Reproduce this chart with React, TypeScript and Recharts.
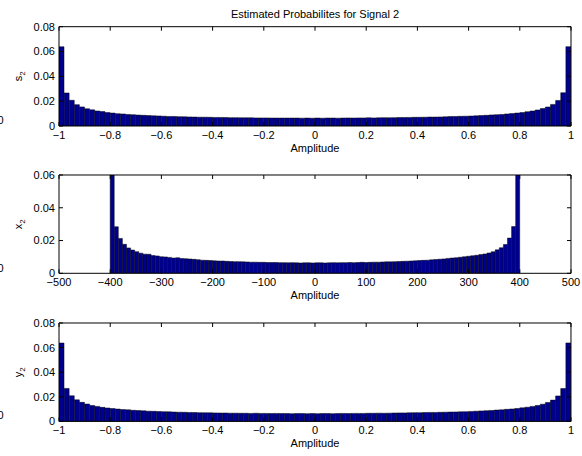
import React from 'react';
import { ComposedChart, Bar, Line, XAxis, YAxis, Label } from 'recharts';

const FONT = '"Liberation Sans", Arial, Helvetica, sans-serif';

// Bin centres (amplitude) for the normalised signals s2 and y2
const unitCenters = [
  -0.99, -0.97, -0.95, -0.93, -0.91, -0.89, -0.87, -0.85, -0.83, -0.81,
  -0.79, -0.77, -0.75, -0.73, -0.71, -0.69, -0.67, -0.65, -0.63, -0.61,
  -0.59, -0.57, -0.55, -0.53, -0.51, -0.49, -0.47, -0.45, -0.43, -0.41,
  -0.39, -0.37, -0.35, -0.33, -0.31, -0.29, -0.27, -0.25, -0.23, -0.21,
  -0.19, -0.17, -0.15, -0.13, -0.11, -0.09, -0.07, -0.05, -0.03, -0.01,
  0.01, 0.03, 0.05, 0.07, 0.09, 0.11, 0.13, 0.15, 0.17, 0.19,
  0.21, 0.23, 0.25, 0.27, 0.29, 0.31, 0.33, 0.35, 0.37, 0.39,
  0.41, 0.43, 0.45, 0.47, 0.49, 0.51, 0.53, 0.55, 0.57, 0.59,
  0.61, 0.63, 0.65, 0.67, 0.69, 0.71, 0.73, 0.75, 0.77, 0.79,
  0.81, 0.83, 0.85, 0.87, 0.89, 0.91, 0.93, 0.95, 0.97, 0.99,
];

// Bin centres (amplitude) for x2
const x2Centers = [
  -396, -388, -380, -372, -364, -356, -348, -340, -332, -324,
  -316, -308, -300, -292, -284, -276, -268, -260, -252, -244,
  -236, -228, -220, -212, -204, -196, -188, -180, -172, -164,
  -156, -148, -140, -132, -124, -116, -108, -100, -92, -84,
  -76, -68, -60, -52, -44, -36, -28, -20, -12, -4,
  4, 12, 20, 28, 36, 44, 52, 60, 68, 76,
  84, 92, 100, 108, 116, 124, 132, 140, 148, 156,
  164, 172, 180, 188, 196, 204, 212, 220, 228, 236,
  244, 252, 260, 268, 276, 284, 292, 300, 308, 316,
  324, 332, 340, 348, 356, 364, 372, 380, 388, 396,
];

const s2Values = [
  0.0638, 0.0266, 0.0207, 0.0172, 0.0154, 0.0139, 0.0130, 0.0121, 0.0116, 0.0108,
  0.0104, 0.0099, 0.0097, 0.0093, 0.0091, 0.0088, 0.0086, 0.0084, 0.0082, 0.0081,
  0.0079, 0.0077, 0.0077, 0.0075, 0.0074, 0.0073, 0.0072, 0.0071, 0.0071, 0.0070,
  0.0069, 0.0069, 0.0068, 0.0067, 0.0067, 0.0066, 0.0066, 0.0066, 0.0065, 0.0065,
  0.0065, 0.0064, 0.0064, 0.0064, 0.0064, 0.0064, 0.0064, 0.0063, 0.0064, 0.0063,
  0.0064, 0.0063, 0.0064, 0.0064, 0.0063, 0.0064, 0.0065, 0.0064, 0.0065, 0.0065,
  0.0066, 0.0065, 0.0066, 0.0067, 0.0066, 0.0067, 0.0068, 0.0068, 0.0069, 0.0070,
  0.0070, 0.0071, 0.0072, 0.0072, 0.0073, 0.0074, 0.0076, 0.0077, 0.0078, 0.0079,
  0.0080, 0.0082, 0.0084, 0.0086, 0.0089, 0.0091, 0.0093, 0.0097, 0.0100, 0.0104,
  0.0108, 0.0115, 0.0121, 0.0129, 0.0140, 0.0153, 0.0174, 0.0206, 0.0268, 0.0639,
];

const x2Values = [
  0.0660, 0.0284, 0.0213, 0.0177, 0.0155, 0.0142, 0.0132, 0.0123, 0.0117, 0.0116,
  0.0108, 0.0106, 0.0101, 0.0100, 0.0097, 0.0093, 0.0095, 0.0090, 0.0089, 0.0087,
  0.0085, 0.0083, 0.0080, 0.0079, 0.0078, 0.0076, 0.0075, 0.0075, 0.0073, 0.0072,
  0.0071, 0.0071, 0.0070, 0.0069, 0.0068, 0.0068, 0.0067, 0.0067, 0.0066, 0.0066,
  0.0066, 0.0065, 0.0065, 0.0064, 0.0065, 0.0064, 0.0063, 0.0064, 0.0064, 0.0063,
  0.0064, 0.0064, 0.0063, 0.0064, 0.0065, 0.0064, 0.0065, 0.0065, 0.0066, 0.0065,
  0.0066, 0.0067, 0.0066, 0.0067, 0.0068, 0.0068, 0.0069, 0.0070, 0.0070, 0.0071,
  0.0072, 0.0073, 0.0074, 0.0075, 0.0076, 0.0078, 0.0079, 0.0080, 0.0082, 0.0084,
  0.0086, 0.0088, 0.0091, 0.0093, 0.0095, 0.0098, 0.0101, 0.0104, 0.0107, 0.0110,
  0.0114, 0.0118, 0.0124, 0.0131, 0.0143, 0.0156, 0.0176, 0.0215, 0.0285, 0.0662,
];

const y2Values = [
  0.0637, 0.0268, 0.0208, 0.0175, 0.0155, 0.0141, 0.0129, 0.0122, 0.0114, 0.0109,
  0.0104, 0.0100, 0.0096, 0.0094, 0.0090, 0.0088, 0.0086, 0.0083, 0.0082, 0.0080,
  0.0079, 0.0078, 0.0076, 0.0075, 0.0074, 0.0073, 0.0072, 0.0071, 0.0070, 0.0070,
  0.0069, 0.0068, 0.0068, 0.0067, 0.0067, 0.0066, 0.0066, 0.0065, 0.0066, 0.0065,
  0.0065, 0.0064, 0.0065, 0.0064, 0.0064, 0.0063, 0.0064, 0.0064, 0.0063, 0.0064,
  0.0063, 0.0064, 0.0064, 0.0063, 0.0064, 0.0065, 0.0064, 0.0065, 0.0065, 0.0065,
  0.0066, 0.0066, 0.0067, 0.0066, 0.0067, 0.0068, 0.0069, 0.0069, 0.0070, 0.0071,
  0.0071, 0.0072, 0.0073, 0.0073, 0.0074, 0.0075, 0.0076, 0.0077, 0.0078, 0.0079,
  0.0081, 0.0083, 0.0085, 0.0087, 0.0089, 0.0092, 0.0094, 0.0098, 0.0101, 0.0105,
  0.0110, 0.0115, 0.0122, 0.0129, 0.0140, 0.0154, 0.0173, 0.0207, 0.0267, 0.0638,
];

const unitTicks = [-1, -0.8, -0.6, -0.4, -0.2, 0, 0.2, 0.4, 0.6, 0.8, 1];
const x2Ticks = [-500, -400, -300, -200, -100, 0, 100, 200, 300, 400, 500];
const prob8Ticks = [0, 0.02, 0.04, 0.06, 0.08];
const prob6Ticks = [0, 0.02, 0.04, 0.06];

const titleText = 'Estimated Probabilites for Signal 2';
const xLabelText = 'Amplitude';

const fmtTick = (v: number) => (v < 0 ? '\u2212' + String(-v) : String(v));
const blank = () => '';

const tickStyle = { fill: '#000', fontSize: 11, fontFamily: FONT };

function makeYLabel(letter: string) {
  return (props: any) => {
    const vb = props.viewBox || { x: 0, y: 0, width: 0, height: 0 };
    const cx = vb.x + 3;
    const cy = vb.y + vb.height / 2;
    return (
      <text
        x={cx}
        y={cy}
        transform={`rotate(-90 ${cx} ${cy})`}
        textAnchor="middle"
        fill="#000"
        fontSize={11}
        fontFamily={FONT}
      >
        <tspan>{letter}</tspan>
        <tspan fontSize={8} dy={3}>2</tspan>
      </text>
    );
  };
}

function Panel(props: {
  data: { x: number; v: number }[];
  xDomain: [number, number];
  xTicks: number[];
  yDomain: [number, number];
  yTicks: number[];
  letter: string;
  title?: string;
  height: number;
  marginTop: number;
}) {
  const { data, xDomain, xTicks, yDomain, yTicks, letter, title, height, marginTop } = props;
  return (
    <ComposedChart
      width={582}
      height={height}
      data={data}
      margin={{ top: marginTop, right: 10, bottom: 0, left: 19 }}
      barCategoryGap={0}
      barGap={0}
    >
      <XAxis
        dataKey="x"
        type="number"
        domain={xDomain}
        ticks={xTicks}
        interval={0}
        allowDataOverflow
        height={30}
        tickSize={-4}
        tickMargin={9}
        tickFormatter={fmtTick}
        tick={tickStyle}
        axisLine={{ stroke: '#000' }}
        tickLine={{ stroke: '#000' }}
      >
        <Label value={xLabelText} position="insideBottom" offset={4} fill="#000" fontSize={11} fontFamily={FONT} />
      </XAxis>
      <XAxis
        xAxisId="top"
        dataKey="x"
        orientation="top"
        type="number"
        domain={xDomain}
        ticks={xTicks}
        interval={0}
        allowDataOverflow
        height={1}
        tickSize={-4}
        tickFormatter={blank}
        axisLine={{ stroke: '#000' }}
        tickLine={{ stroke: '#000' }}
      >
        {title ? (
          <Label value={title} position="top" offset={8} fill="#000" fontSize={11} fontFamily={FONT} />
        ) : null}
      </XAxis>
      <YAxis
        type="number"
        domain={yDomain}
        ticks={yTicks}
        interval={0}
        allowDataOverflow
        width={40}
        tickSize={-4}
        tickMargin={8}
        tick={tickStyle}
        axisLine={{ stroke: '#000' }}
        tickLine={{ stroke: '#000' }}
      >
        <Label content={makeYLabel(letter)} />
      </YAxis>
      <YAxis
        yAxisId="right"
        orientation="right"
        type="number"
        domain={yDomain}
        ticks={yTicks}
        interval={0}
        allowDataOverflow
        width={1}
        tickSize={-4}
        tickFormatter={blank}
        axisLine={{ stroke: '#000' }}
        tickLine={{ stroke: '#000' }}
      />
      <Bar dataKey="v" fill="#00008F" stroke="#000" strokeWidth={0.5} isAnimationActive={false} />
      <Line
        xAxisId="top"
        yAxisId="right"
        dataKey="v"
        stroke="none"
        dot={false}
        activeDot={false}
        legendType="none"
        isAnimationActive={false}
      />
    </ComposedChart>
  );
}

export default function App() {
  const s2Data = unitCenters.map((x, i) => ({ x, v: s2Values[i] }));
  const x2Data = x2Centers.map((x, i) => ({ x, v: x2Values[i] }));
  const y2Data = unitCenters.map((x, i) => ({ x, v: y2Values[i] }));
  return (
    <div style={{ position: 'absolute', left: 0, top: 0, width: 582, height: 456, background: '#fff', overflow: 'hidden' }}>
      <div style={{ position: 'absolute', left: 0, top: 0 }}>
        <Panel data={s2Data} xDomain={[-1, 1]} xTicks={unitTicks} yDomain={[0, 0.08]} yTicks={prob8Ticks} letter="s" title={titleText} height={156} marginTop={25.7} />
      </div>
      <div style={{ position: 'absolute', left: 0, top: 165 }}>
        <Panel data={x2Data} xDomain={[-500, 500]} xTicks={x2Ticks} yDomain={[0, 0.06]} yTicks={prob6Ticks} letter="x" height={138.3} marginTop={9} />
      </div>
      <div style={{ position: 'absolute', left: 0, top: 313.3 }}>
        <Panel data={y2Data} xDomain={[-1, 1]} xTicks={unitTicks} yDomain={[0, 0.08]} yTicks={prob8Ticks} letter="y" height={138.4} marginTop={9} />
      </div>
      <svg width={582} height={456} style={{ position: 'absolute', left: 0, top: 0, pointerEvents: 'none' }}>
        <text x={-2.5} y={124} fontSize={11} fontFamily={FONT} fill="#000">0</text>
        <text x={-2.5} y={272} fontSize={11} fontFamily={FONT} fill="#000">0</text>
        <text x={-2.5} y={419} fontSize={11} fontFamily={FONT} fill="#000">0</text>
      </svg>
    </div>
  );
}
